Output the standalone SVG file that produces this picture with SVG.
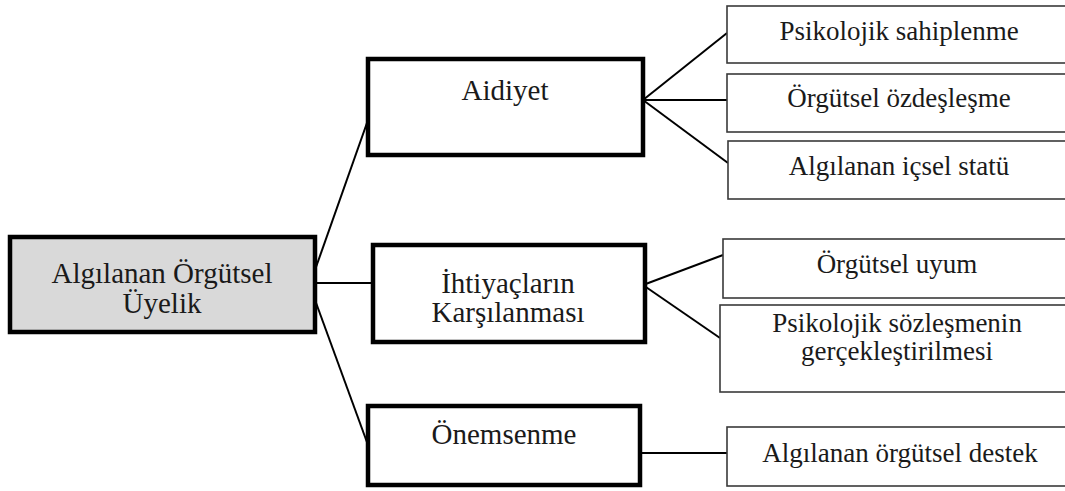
<svg xmlns="http://www.w3.org/2000/svg" width="1065" height="491" viewBox="0 0 1065 491">
<style>
.main{fill:#fff;stroke:#000;stroke-width:4.5}
.root{fill:#d9d9d9;stroke:#000;stroke-width:4.5}
.leaf{fill:#fff;stroke:#3a3a3a;stroke-width:1.6}
.t{font-family:"Liberation Serif","Times New Roman",serif;font-size:29px;fill:#1a1a1a;text-anchor:middle}
.s{font-family:"Liberation Serif","Times New Roman",serif;font-size:27px;fill:#1a1a1a;text-anchor:middle}
.c{stroke:#000;stroke-width:2;fill:none}
</style>
<rect width="1065" height="491" fill="#fff"/>
<g id="connectors">
<line class="c" x1="315" y1="270" x2="368" y2="120"/>
<line class="c" x1="315" y1="283" x2="373" y2="283"/>
<line class="c" x1="315" y1="300" x2="368" y2="445"/>
<line class="c" x1="643" y1="100" x2="727" y2="33"/>
<line class="c" x1="643" y1="100" x2="727" y2="100"/>
<line class="c" x1="643" y1="100" x2="728" y2="163"/>
<line class="c" x1="643" y1="285" x2="723" y2="255"/>
<line class="c" x1="643" y1="285" x2="720" y2="338"/>
<line class="c" x1="640" y1="453" x2="727" y2="453"/>
</g>
<g id="root">
<rect class="root" x="10" y="237" width="305" height="95"/>
<text class="t" x="162" y="283">Algılanan Örgütsel</text>
<text class="t" x="162" y="313">Üyelik</text>
</g>
<g id="aidiyet">
<rect class="main" x="368" y="59" width="275" height="96"/>
<text class="t" x="505" y="100">Aidiyet</text>
</g>
<g id="ihtiyac">
<rect class="main" x="373" y="245" width="272" height="97"/>
<text class="t" x="508" y="293">İhtiyaçların</text>
<text class="t" x="508" y="322">Karşılanması</text>
</g>
<g id="onemsenme">
<rect class="main" x="368" y="406" width="272" height="79"/>
<text class="t" x="504" y="444">Önemsenme</text>
</g>
<g id="leaf1">
<rect class="leaf" x="727" y="6" width="345" height="57"/>
<text class="s" x="899" y="40">Psikolojik sahiplenme</text>
</g>
<g id="leaf2">
<rect class="leaf" x="727" y="74" width="345" height="58"/>
<text class="s" x="899" y="107">Örgütsel özdeşleşme</text>
</g>
<g id="leaf3">
<rect class="leaf" x="728" y="141" width="345" height="58"/>
<text class="s" x="899" y="175">Algılanan içsel statü</text>
</g>
<g id="leaf4">
<rect class="leaf" x="723" y="239" width="350" height="59"/>
<text class="s" x="897" y="273">Örgütsel uyum</text>
</g>
<g id="leaf5">
<rect class="leaf" x="720" y="305" width="353" height="87"/>
<text class="s" x="897" y="332">Psikolojik sözleşmenin</text>
<text class="s" x="897" y="360">gerçekleştirilmesi</text>
</g>
<g id="leaf6">
<rect class="leaf" x="727" y="427" width="345" height="59"/>
<text class="s" x="900" y="462">Algılanan örgütsel destek</text>
</g>
</svg>
